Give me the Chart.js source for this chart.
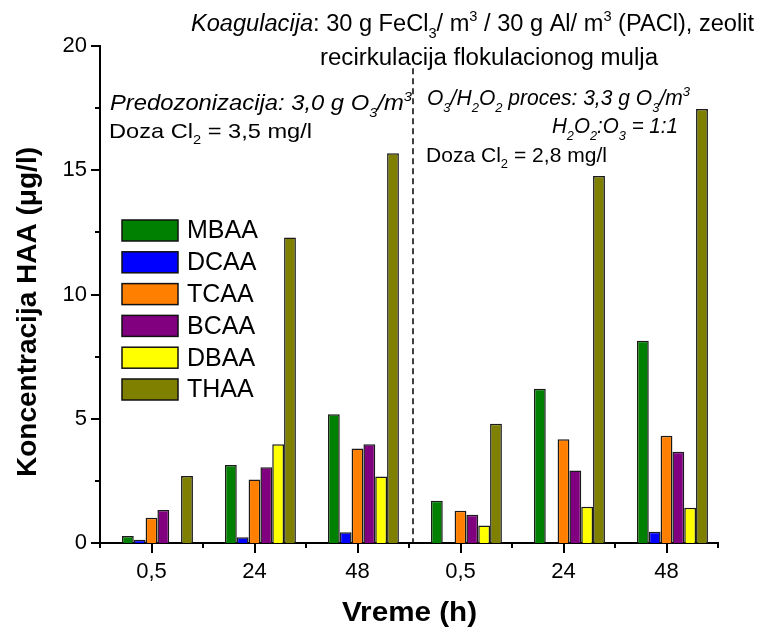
<!DOCTYPE html>
<html>
<head>
<meta charset="utf-8">
<script src="https://cdn.jsdelivr.net/npm/chart.js@4.4.1/dist/chart.umd.min.js"></script>
<style>
  html, body { margin: 0; padding: 0; background: #fff; }
  canvas { display: block; }
</style>
</head>
<body>
<canvas id="chart" width="760" height="628"></canvas>
<script>
// data (µg/l)
const categories = ['0,5', '24', '48', '0,5', '24', '48'];
const mbaa = [0.28, 3.14, 5.18, 1.70, 6.21, 8.14];
const dcaa = [0.13, 0.23, 0.43, null, null, 0.45];
const tcaa = [1.02, 2.56, 3.80, 1.30, 4.18, 4.32];
const bcaa = [1.33, 3.05, 3.97, 1.14, 2.92, 3.67];
const dbaa = [null, 3.97, 2.68, 0.70, 1.46, 1.42];
const thaa = [2.70, 12.29, 15.68, 4.80, 14.77, 17.46];
const yTicks = [0, 5, 10, 15, 20];

const seriesNames = ['MBAA', 'DCAA', 'TCAA', 'BCAA', 'DBAA', 'THAA'];
const seriesData = [mbaa, dcaa, tcaa, bcaa, dbaa, thaa];
const seriesColors = ['#008000', '#0000ff', '#ff8000', '#800080', '#ffff00', '#808000'];

const FONT = '"Liberation Sans", Arial, sans-serif';

// text with italic / sub / sup pieces, squeezed to a given width
function richText(ctx, segs, x, y, size, width) {
  const parts = segs.map(([t, f = '']) => {
    const small = f.includes('b') || f.includes('p');
    const s = small ? size * 0.62 : size;
    const font = (f.includes('i') ? 'italic ' : '') + (f.includes('B') ? 'bold ' : '') + s + 'px ' + FONT;
    ctx.font = font;
    const dy = f.includes('b') ? size * 0.3 : (f.includes('p') ? -size * 0.42 : 0);
    return { t, font, dy, w: ctx.measureText(t).width };
  });
  const natural = parts.reduce((a, p) => a + p.w, 0);
  const k = width ? width / natural : 1;
  ctx.save();
  ctx.translate(x, y);
  ctx.scale(k, 1);
  ctx.fillStyle = '#000';
  ctx.textAlign = 'left';
  ctx.textBaseline = 'alphabetic';
  let cx = 0;
  parts.forEach(p => { ctx.font = p.font; ctx.fillText(p.t, cx, p.dy); cx += p.w; });
  ctx.restore();
}

const notes = [
  { segs: [['Koagulacija', 'i'], [': 30 g FeCl'], ['3', 'b'], ['/ m'], ['3', 'p'], [' / 30 g Al/ m'], ['3', 'p'], [' (PACl), zeolit']], x: 191, y: 31, size: 23, w: 563 },
  { segs: [['recirkulacija flokulacionog mulja']], x: 320, y: 65, size: 23, w: 338 },
  { segs: [['Predozonizacija: 3,0 g O', 'i'], ['3', 'ib'], ['/m', 'i'], ['3', 'ip']], x: 110, y: 110, size: 22, w: 302 },
  { segs: [['Doza Cl'], ['2', 'b'], [' = 3,5 mg/l']], x: 109, y: 138, size: 21, w: 203 },
  { segs: [['O', 'i'], ['3', 'ib'], ['/H', 'i'], ['2', 'ib'], ['O', 'i'], ['2', 'ib'], [' proces: 3,3 g O', 'i'], ['3', 'ib'], ['/m', 'i'], ['3', 'ip']], x: 427, y: 105, size: 22, w: 263 },
  { segs: [['H', 'i'], ['2', 'ib'], ['O', 'i'], ['2', 'ib'], [':O', 'i'], ['3', 'ib'], [' = 1:1', 'i']], x: 552, y: 133, size: 22, w: 126 },
  { segs: [['Doza Cl'], ['2', 'b'], [' = 2,8 mg/l']], x: 426, y: 162, size: 21, w: 181 }
];

const decor = {
  id: 'decor',
  afterDraw(chart) {
    const { ctx, chartArea: a, scales: { x, y } } = chart;
    ctx.save();
    ctx.strokeStyle = '#000';
    ctx.lineWidth = 2;
    // y ticks (major + minor), pointing out
    for (let v = 0; v <= 20; v += 2.5) {
      const py = Math.round(y.getPixelForValue(v));
      const len = v % 5 === 0 ? 9 : 5;
      ctx.beginPath(); ctx.moveTo(a.left, py); ctx.lineTo(a.left - len, py); ctx.stroke();
    }
    // x ticks: long at categories, short at boundaries
    const step = x.getPixelForValue(1) - x.getPixelForValue(0);
    categories.forEach((c, i) => {
      const px = Math.round(x.getPixelForValue(i));
      ctx.beginPath(); ctx.moveTo(px, a.bottom); ctx.lineTo(px, a.bottom + 10); ctx.stroke();
    });
    for (let i = 0; i <= categories.length; i++) {
      const px = Math.round(x.getPixelForValue(0) - step / 2 + i * step);
      ctx.beginPath(); ctx.moveTo(px, a.bottom); ctx.lineTo(px, a.bottom + 5); ctx.stroke();
    }
    // dashed separator between the two processes
    const sx = (x.getPixelForValue(2) + x.getPixelForValue(3)) / 2 + 4;
    ctx.lineWidth = 1.5;
    ctx.setLineDash([6, 4]);
    ctx.beginPath(); ctx.moveTo(sx, y.getPixelForValue(19.1)); ctx.lineTo(sx, a.bottom); ctx.stroke();
    ctx.setLineDash([]);

    // legend inside the plot
    seriesNames.forEach((n, i) => {
      const cy = 230.5 + i * 31.8;
      ctx.fillStyle = seriesColors[i];
      ctx.fillRect(122, cy - 10.5, 56, 21);
      ctx.lineWidth = 1.5;
      ctx.strokeStyle = '#111';
      ctx.strokeRect(122, cy - 10.5, 56, 21);
      ctx.fillStyle = '#000';
      ctx.font = '25px ' + FONT;
      ctx.textBaseline = 'middle';
      ctx.fillText(n, 187, cy + 1);
    });

    // annotations
    notes.forEach(n => richText(ctx, n.segs, n.x, n.y, n.size, n.w));

    // axis titles
    ctx.save();
    ctx.translate(36, 312);
    ctx.rotate(-Math.PI / 2);
    richText(ctx, [['Koncentracija HAA (\u03bcg/l)', 'B']], -165, 0, 27, 330);
    ctx.restore();
    richText(ctx, [['Vreme (h)', 'B']], 342, 621, 27, 135);
    ctx.restore();
  }
};

const datasets = [{ label: '', data: categories.map(() => null), backgroundColor: 'transparent' }]
  .concat(seriesNames.map((n, i) => ({
    label: n,
    data: seriesData[i],
    backgroundColor: seriesColors[i],
    borderColor: '#1a1a1a',
    borderWidth: 1.5,
    borderSkipped: 'bottom'
  })));

new Chart(document.getElementById('chart'), {
  type: 'bar',
  data: { labels: categories, datasets },
  options: {
    responsive: false,
    animation: false,
    devicePixelRatio: 1,
    layout: { padding: { top: 46, right: 42, left: 0, bottom: 0 } },
    datasets: { bar: { categoryPercentage: 0.804, barPercentage: 1 } },
    plugins: { legend: { display: false }, tooltip: { enabled: false } },
    scales: {
      x: {
        grid: { display: false, drawTicks: false },
        border: { display: true, color: '#000', width: 2 },
        ticks: { color: '#000', font: { family: FONT, size: 22 }, padding: 16, maxRotation: 0 },
        afterFit(s) { s.height = 85; }
      },
      y: {
        min: 0, max: 20,
        afterBuildTicks(s) { s.ticks = yTicks.map(v => ({ value: v })); },
        grid: { display: false, drawTicks: false },
        border: { display: true, color: '#000', width: 2 },
        ticks: { color: '#000', font: { family: FONT, size: 22 }, padding: 13 },
        afterFit(s) { s.width = 100; }
      }
    }
  },
  plugins: [decor]
});
</script>
</body>
</html>
